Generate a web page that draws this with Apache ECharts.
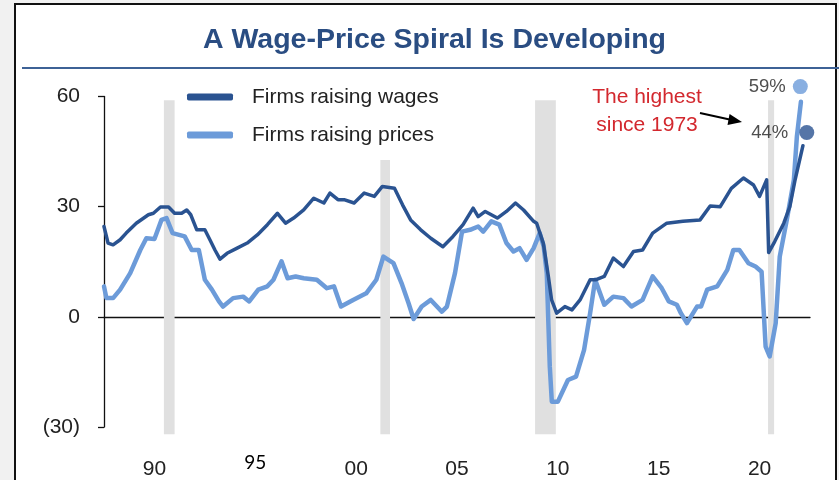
<!DOCTYPE html>
<html>
<head>
<meta charset="utf-8">
<script src="https://cdn.jsdelivr.net/npm/echarts@6/dist/echarts.min.js"></script>
<style>html,body{margin:0;padding:0;background:#fff}#c{width:839px;height:480px}</style>
</head>
<body>
<div id="c"></div>
<script>
// ---- data ----
const titleText = 'A Wage-Price Spiral Is Developing';
const seriesNames = ['Firms raising wages', 'Firms raising prices'];
const xTickLabels = ['90', '95', '00', '05', '10', '15', '20'];
const xRange = [1987.5, 2022.5];
const yTicks = [-30, 0, 30, 60];
const recessions = [[1990.47, 1991.0], [2001.2, 2001.68], [2008.87, 2009.9], [2020.42, 2020.72]];

const wages = [
  [1987.5, 24.6], [1987.7, 20.1], [1987.95, 19.6], [1988.3, 21.0], [1988.6, 22.8],
  [1989.1, 25.5], [1989.7, 27.8], [1989.95, 28.2], [1990.3, 29.9], [1990.7, 29.9],
  [1991.0, 28.2], [1991.35, 28.2], [1991.6, 29.1], [1991.8, 27.8], [1992.1, 23.7],
  [1992.5, 23.7], [1992.75, 21.0], [1993.0, 18.2], [1993.25, 15.7], [1993.6, 17.3],
  [1994.1, 18.7], [1994.6, 20.1], [1995.1, 22.3], [1995.6, 25.1], [1996.1, 28.2],
  [1996.5, 25.5], [1996.9, 26.9], [1997.4, 29.1], [1997.9, 32.3], [1998.4, 31.0],
  [1998.7, 33.7], [1999.1, 31.9], [1999.4, 31.9], [1999.9, 31.0], [2000.4, 33.7],
  [2000.9, 32.8], [2001.3, 35.5], [2001.9, 35.0], [2002.3, 30.5], [2002.7, 26.4],
  [2003.2, 23.7], [2003.7, 21.4], [2004.3, 19.1], [2004.8, 21.9], [2005.3, 25.1],
  [2005.8, 29.6], [2006.05, 27.3], [2006.4, 28.7], [2007.0, 26.9], [2007.45, 28.7],
  [2007.9, 31.0], [2008.3, 29.1], [2008.8, 26.0], [2008.95, 25.5], [2009.28, 20.0],
  [2009.53, 11.0], [2009.69, 4.6], [2009.94, 1.0], [2010.35, 2.8], [2010.7, 1.9],
  [2011.1, 4.6], [2011.6, 10.1], [2011.9, 10.1], [2012.3, 11.0], [2012.75, 16.0],
  [2013.25, 13.7], [2013.75, 17.8], [2014.2, 18.2], [2014.7, 22.8], [2015.4, 25.5],
  [2016.2, 26.0], [2017.05, 26.4], [2017.55, 30.2], [2018.05, 30.0], [2018.6, 35.0],
  [2019.2, 37.8], [2019.7, 35.9], [2020.0, 32.8], [2020.35, 37.3], [2020.45, 17.5],
  [2020.75, 20.5], [2021.2, 25.5], [2021.5, 30.0], [2021.75, 37.0], [2022.15, 46.6]
];

const prices = [
  [1987.5, 8.3], [1987.62, 5.1], [1987.95, 5.1], [1988.3, 7.4], [1988.8, 11.9],
  [1989.3, 18.2], [1989.6, 21.4], [1990.0, 21.2], [1990.35, 26.4], [1990.6, 26.9],
  [1990.9, 22.8], [1991.5, 21.9], [1991.85, 18.2], [1992.2, 18.2], [1992.5, 10.1],
  [1992.85, 7.4], [1993.2, 4.2], [1993.4, 2.8], [1993.9, 5.1], [1994.4, 5.5],
  [1994.7, 4.2], [1995.15, 7.4], [1995.6, 8.3], [1995.9, 10.1], [1996.3, 15.1],
  [1996.6, 10.5], [1997.0, 11.0], [1997.4, 10.5], [1998.05, 10.1], [1998.55, 7.8],
  [1998.9, 8.3], [1999.25, 2.8], [1999.85, 4.6], [2000.5, 6.4], [2001.0, 10.1],
  [2001.35, 16.4], [2001.85, 14.6], [2002.25, 9.2], [2002.6, 3.7], [2002.85, -0.6],
  [2003.25, 2.8], [2003.7, 4.6], [2004.25, 1.4], [2004.5, 2.8], [2004.9, 11.9],
  [2005.25, 23.2], [2005.65, 23.7], [2006.05, 24.6], [2006.3, 23.2], [2006.7, 26.0],
  [2007.1, 25.1], [2007.45, 20.1], [2007.8, 17.8], [2008.1, 18.7], [2008.45, 15.5],
  [2008.8, 18.7], [2009.1, 22.8], [2009.3, 19.1], [2009.45, 11.9], [2009.6, -13.5],
  [2009.7, -23.1], [2010.0, -23.1], [2010.5, -17.2], [2010.9, -16.3], [2011.3, -9.0],
  [2011.6, 1.0], [2011.85, 10.1], [2012.3, 3.3], [2012.75, 5.5], [2013.25, 5.1],
  [2013.65, 2.8], [2014.2, 4.6], [2014.7, 11.0], [2015.15, 7.8], [2015.5, 4.2],
  [2015.9, 3.3], [2016.1, 1.0], [2016.4, -1.7], [2016.9, 2.8], [2017.1, 2.8],
  [2017.4, 7.4], [2017.9, 8.3], [2018.4, 12.8], [2018.7, 18.2], [2019.0, 18.2],
  [2019.45, 14.6], [2019.8, 13.7], [2020.1, 12.3], [2020.3, -8.1], [2020.5, -10.8],
  [2020.8, -1.7], [2021.0, 16.4], [2021.35, 26.4], [2021.7, 37.3], [2021.85, 49.1],
  [2022.05, 58.6]
];

const endPoints = [[2022.02, 62.7], [2022.34, 50.2]];
const endLabels = ['59%', '44%'];
const noteText = ['The highest', 'since 1973'];

// ---- styles ----
const FONT = '"Liberation Sans", Arial, sans-serif';
const DARK = '#2a5391';
const LIGHT = '#6c9bd9';
const BAND_TOP = 59, BAND_BOTTOM = -32;

const chart = echarts.init(document.getElementById('c'), null, {renderer: 'canvas'});

const option = {
  animation: false,
  backgroundColor: '#f1f1f1',
  title: {
    text: titleText,
    left: 198, top: 21,
    textStyle: {fontFamily: FONT, fontSize: 28.5, fontWeight: 'bold', color: '#2a4d82'}
  },
  graphic: [
    {type: 'rect', z: -10, shape: {x: 15, y: 4, width: 821, height: 480},
     style: {fill: '#ffffff', stroke: '#111', lineWidth: 2}},
    {type: 'line', z: 5, shape: {x1: 22, y1: 68, x2: 839, y2: 68},
     style: {stroke: '#3e6296', lineWidth: 2}},
    {type: 'text', z: 20, x: 647, y: 111,
     style: {text: noteText.join('\n'), fill: '#d3282e', fontSize: 21, fontFamily: FONT,
             lineHeight: 28, align: 'center', verticalAlign: 'middle'}},
    {type: 'line', z: 20, shape: {x1: 700, y1: 113, x2: 733, y2: 120.2},
     style: {stroke: '#000', lineWidth: 2}},
    {type: 'polygon', z: 20, shape: {points: [[742, 122], [727.5, 125], [729.6, 114]]},
     style: {fill: '#000'}}
  ],
  legend: {
    orient: 'vertical', left: 182, top: 80, itemGap: 14,
    itemWidth: 46, itemHeight: 7, icon: 'roundRect',
    backgroundColor: '#ffffff', padding: [5, 10, 13, 5],
    textStyle: {fontFamily: FONT, fontSize: 21, color: '#222', lineHeight: 24, padding: [0, 0, 0, 14]},
    data: seriesNames
  },
  grid: {left: 104, right: 29, top: 96.5, bottom: 53, containLabel: false, outerBoundsMode: 'none'},
  xAxis: [
    {
      type: 'category', data: xTickLabels, boundaryGap: true,
      axisLine: {onZero: true, lineStyle: {color: '#111', width: 1.3}},
      axisTick: {length: 6, lineStyle: {color: '#111', width: 1.3}},
      axisLabel: {show: false},
      splitLine: {show: false}
    },
    {type: 'value', min: xRange[0], max: xRange[1], show: false},
    {
      type: 'category', data: xTickLabels, boundaryGap: true, position: 'bottom',
      axisLine: {show: false, onZero: false},
      axisTick: {show: false},
      axisLabel: {
        margin: 24,
        formatter: v => v === '95' ? '{b|' + v + '}' : '{n|' + v + '}',
        rich: {
          n: {fontFamily: FONT, fontSize: 21, color: '#222', lineHeight: 36},
          b: {fontFamily: 'Lato, "Open Sans", sans-serif', fontSize: 19, color: '#000', lineHeight: 24}
        }
      },
      splitLine: {show: false}
    }
  ],
  yAxis: {
    type: 'value', min: yTicks[0], max: yTicks[yTicks.length - 1], interval: 30,
    axisLine: {show: true, lineStyle: {color: '#111', width: 1.3}},
    axisTick: {show: true, length: 6, lineStyle: {color: '#111', width: 1.3}},
    axisLabel: {margin: 24, fontFamily: FONT, fontSize: 21, color: '#222',
                formatter: v => v < 0 ? '(' + Math.abs(v) + ')' : String(v)},
    splitLine: {show: false}
  },
  series: [
    {
      type: 'custom', xAxisIndex: 1, silent: true, z: 1, clip: false,
      data: recessions,
      renderItem: (params, api) => {
        const p0 = api.coord([api.value(0), BAND_TOP]);
        const p1 = api.coord([api.value(1), BAND_BOTTOM]);
        return {type: 'rect', shape: {x: p0[0], y: p0[1], width: p1[0] - p0[0], height: p1[1] - p0[1]},
                style: {fill: '#e0e0e0'}};
      }
    },
    {
      name: seriesNames[1], type: 'line', xAxisIndex: 1, data: prices, z: 3, clip: false,
      showSymbol: false, symbol: 'none', color: LIGHT,
      lineStyle: {color: LIGHT, width: 4.5, join: 'round', cap: 'round'}
    },
    {
      name: seriesNames[0], type: 'line', xAxisIndex: 1, data: wages, z: 4, clip: false,
      showSymbol: false, symbol: 'none', color: DARK,
      lineStyle: {color: DARK, width: 3.5, join: 'round', cap: 'round'}
    },
    {
      type: 'scatter', xAxisIndex: 1, z: 5, symbolSize: 15, clip: false,
      data: endPoints.map((p, i) => ({
        value: p,
        itemStyle: {color: i === 0 ? LIGHT : DARK},
        label: {show: true, position: 'left', distance: i === 0 ? 7 : 11,
                formatter: endLabels[i], fontFamily: FONT, fontSize: 18.5, color: '#222'}
      }))
    }
  ]
};
chart.setOption(option);
</script>
</body>
</html>
